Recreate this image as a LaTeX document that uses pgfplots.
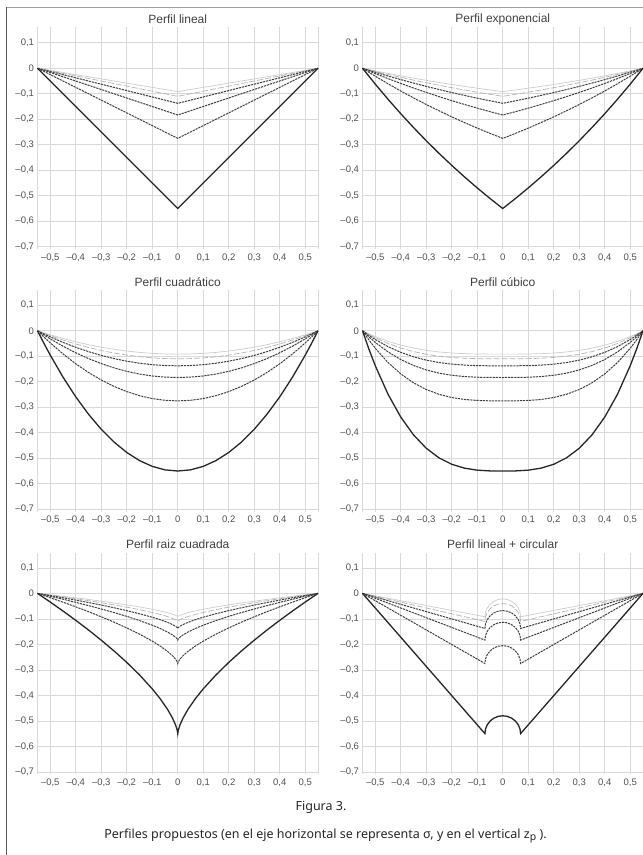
\documentclass[border=0pt]{standalone}
\usepackage{fontspec}
\setmainfont{Liberation Sans}
\newfontfamily\capfont{Noto Sans}
\usepackage{pgfplots}
\usepackage{pgfplotstable}
\pgfplotsset{compat=1.18}

\definecolor{tickgray}{HTML}{505050}
\definecolor{titlegray}{HTML}{404040}

% depth of each curve = 0.55/k, k = 1..6 (columns a..f)
\pgfplotstableread{
x a b c d e f
-0.55 0 0 0 0 0 0
0 -0.55 -0.275 -0.1833 -0.1375 -0.11 -0.0917
0.55 0 0 0 0 0 0
}\tlin

\pgfplotstableread{
x a b c d e f
-0.55 0 0 0 0 0 0
-0.50 -0.0621 -0.0311 -0.0207 -0.0155 -0.0124 -0.0104
-0.45 -0.1215 -0.0607 -0.0405 -0.0304 -0.0243 -0.0202
-0.40 -0.1782 -0.0891 -0.0594 -0.0445 -0.0356 -0.0297
-0.35 -0.2324 -0.1162 -0.0775 -0.0581 -0.0465 -0.0387
-0.30 -0.2842 -0.1421 -0.0947 -0.0710 -0.0568 -0.0474
-0.25 -0.3337 -0.1668 -0.1112 -0.0834 -0.0667 -0.0556
-0.20 -0.3810 -0.1905 -0.1270 -0.0952 -0.0762 -0.0635
-0.15 -0.4261 -0.2131 -0.1420 -0.1065 -0.0852 -0.0710
-0.10 -0.4693 -0.2347 -0.1564 -0.1173 -0.0939 -0.0782
-0.05 -0.5106 -0.2553 -0.1702 -0.1276 -0.1021 -0.0851
0 -0.55 -0.275 -0.1833 -0.1375 -0.11 -0.0917
0.05 -0.5106 -0.2553 -0.1702 -0.1276 -0.1021 -0.0851
0.10 -0.4693 -0.2347 -0.1564 -0.1173 -0.0939 -0.0782
0.15 -0.4261 -0.2131 -0.1420 -0.1065 -0.0852 -0.0710
0.20 -0.3810 -0.1905 -0.1270 -0.0952 -0.0762 -0.0635
0.25 -0.3337 -0.1668 -0.1112 -0.0834 -0.0667 -0.0556
0.30 -0.2842 -0.1421 -0.0947 -0.0710 -0.0568 -0.0474
0.35 -0.2324 -0.1162 -0.0775 -0.0581 -0.0465 -0.0387
0.40 -0.1782 -0.0891 -0.0594 -0.0445 -0.0356 -0.0297
0.45 -0.1215 -0.0607 -0.0405 -0.0304 -0.0243 -0.0202
0.50 -0.0621 -0.0311 -0.0207 -0.0155 -0.0124 -0.0104
0.55 0 0 0 0 0 0
}\texp

\pgfplotstableread{
x a b c d e f
-0.55 0 0 0 0 0 0
-0.525 -0.0489 -0.0244 -0.0163 -0.0122 -0.0098 -0.0081
-0.50 -0.0955 -0.0477 -0.0318 -0.0239 -0.0191 -0.0159
-0.45 -0.1818 -0.0909 -0.0606 -0.0455 -0.0364 -0.0303
-0.40 -0.2591 -0.1295 -0.0864 -0.0648 -0.0518 -0.0432
-0.35 -0.3273 -0.1636 -0.1091 -0.0818 -0.0655 -0.0545
-0.30 -0.3864 -0.1932 -0.1288 -0.0966 -0.0773 -0.0644
-0.25 -0.4364 -0.2182 -0.1455 -0.1091 -0.0873 -0.0727
-0.20 -0.4773 -0.2386 -0.1591 -0.1193 -0.0955 -0.0795
-0.15 -0.5091 -0.2545 -0.1697 -0.1273 -0.1018 -0.0848
-0.10 -0.5318 -0.2659 -0.1773 -0.1330 -0.1064 -0.0886
-0.05 -0.5455 -0.2727 -0.1818 -0.1364 -0.1091 -0.0909
0 -0.55 -0.275 -0.1833 -0.1375 -0.11 -0.0917
0.05 -0.5455 -0.2727 -0.1818 -0.1364 -0.1091 -0.0909
0.10 -0.5318 -0.2659 -0.1773 -0.1330 -0.1064 -0.0886
0.15 -0.5091 -0.2545 -0.1697 -0.1273 -0.1018 -0.0848
0.20 -0.4773 -0.2386 -0.1591 -0.1193 -0.0955 -0.0795
0.25 -0.4364 -0.2182 -0.1455 -0.1091 -0.0873 -0.0727
0.30 -0.3864 -0.1932 -0.1288 -0.0966 -0.0773 -0.0644
0.35 -0.3273 -0.1636 -0.1091 -0.0818 -0.0655 -0.0545
0.40 -0.2591 -0.1295 -0.0864 -0.0648 -0.0518 -0.0432
0.45 -0.1818 -0.0909 -0.0606 -0.0455 -0.0364 -0.0303
0.50 -0.0955 -0.0477 -0.0318 -0.0239 -0.0191 -0.0159
0.525 -0.0489 -0.0244 -0.0163 -0.0122 -0.0098 -0.0081
0.55 0 0 0 0 0 0
}\tquad

\pgfplotstableread{
x a b c d e f
-0.55 0 0 0 0 0 0
-0.525 -0.0716 -0.0358 -0.0239 -0.0179 -0.0143 -0.0119
-0.50 -0.1368 -0.0684 -0.0456 -0.0342 -0.0274 -0.0228
-0.45 -0.2488 -0.1244 -0.0829 -0.0622 -0.0498 -0.0415
-0.40 -0.3384 -0.1692 -0.1128 -0.0846 -0.0677 -0.0564
-0.35 -0.4083 -0.2041 -0.1361 -0.1021 -0.0817 -0.0680
-0.30 -0.4607 -0.2304 -0.1536 -0.1152 -0.0921 -0.0768
-0.25 -0.4984 -0.2492 -0.1661 -0.1246 -0.0997 -0.0831
-0.20 -0.5236 -0.2618 -0.1745 -0.1309 -0.1047 -0.0873
-0.15 -0.5388 -0.2694 -0.1796 -0.1347 -0.1078 -0.0898
-0.10 -0.5467 -0.2733 -0.1822 -0.1367 -0.1093 -0.0911
-0.05 -0.5496 -0.2748 -0.1832 -0.1374 -0.1099 -0.0916
0 -0.55 -0.275 -0.1833 -0.1375 -0.11 -0.0917
0.05 -0.5496 -0.2748 -0.1832 -0.1374 -0.1099 -0.0916
0.10 -0.5467 -0.2733 -0.1822 -0.1367 -0.1093 -0.0911
0.15 -0.5388 -0.2694 -0.1796 -0.1347 -0.1078 -0.0898
0.20 -0.5236 -0.2618 -0.1745 -0.1309 -0.1047 -0.0873
0.25 -0.4984 -0.2492 -0.1661 -0.1246 -0.0997 -0.0831
0.30 -0.4607 -0.2304 -0.1536 -0.1152 -0.0921 -0.0768
0.35 -0.4083 -0.2041 -0.1361 -0.1021 -0.0817 -0.0680
0.40 -0.3384 -0.1692 -0.1128 -0.0846 -0.0677 -0.0564
0.45 -0.2488 -0.1244 -0.0829 -0.0622 -0.0498 -0.0415
0.50 -0.1368 -0.0684 -0.0456 -0.0342 -0.0274 -0.0228
0.525 -0.0716 -0.0358 -0.0239 -0.0179 -0.0143 -0.0119
0.55 0 0 0 0 0 0
}\tcub

\pgfplotstableread{
x a b c d e f
-0.55 0 0 0 0 0 0
-0.50 -0.0340 -0.0170 -0.0113 -0.0085 -0.0068 -0.0057
-0.45 -0.0692 -0.0346 -0.0231 -0.0173 -0.0138 -0.0115
-0.40 -0.1057 -0.0528 -0.0352 -0.0264 -0.0211 -0.0176
-0.35 -0.1437 -0.0718 -0.0479 -0.0359 -0.0287 -0.0239
-0.30 -0.1836 -0.0918 -0.0612 -0.0459 -0.0367 -0.0306
-0.25 -0.2257 -0.1129 -0.0752 -0.0564 -0.0451 -0.0376
-0.20 -0.2707 -0.1354 -0.0902 -0.0677 -0.0541 -0.0451
-0.15 -0.3197 -0.1598 -0.1066 -0.0799 -0.0639 -0.0533
-0.10 -0.3745 -0.1872 -0.1248 -0.0936 -0.0749 -0.0624
-0.07 -0.4118 -0.2059 -0.1373 -0.1029 -0.0824 -0.0686
-0.04 -0.4550 -0.2275 -0.1517 -0.1138 -0.0910 -0.0758
-0.02 -0.4903 -0.2451 -0.1634 -0.1226 -0.0981 -0.0817
-0.008 -0.5177 -0.2588 -0.1726 -0.1294 -0.1035 -0.0863
-0.002 -0.5372 -0.2686 -0.1791 -0.1343 -0.1074 -0.0895
0 -0.55 -0.275 -0.1833 -0.1375 -0.11 -0.0917
0.002 -0.5372 -0.2686 -0.1791 -0.1343 -0.1074 -0.0895
0.008 -0.5177 -0.2588 -0.1726 -0.1294 -0.1035 -0.0863
0.02 -0.4903 -0.2451 -0.1634 -0.1226 -0.0981 -0.0817
0.04 -0.4550 -0.2275 -0.1517 -0.1138 -0.0910 -0.0758
0.07 -0.4118 -0.2059 -0.1373 -0.1029 -0.0824 -0.0686
0.10 -0.3745 -0.1872 -0.1248 -0.0936 -0.0749 -0.0624
0.15 -0.3197 -0.1598 -0.1066 -0.0799 -0.0639 -0.0533
0.20 -0.2707 -0.1354 -0.0902 -0.0677 -0.0541 -0.0451
0.25 -0.2257 -0.1129 -0.0752 -0.0564 -0.0451 -0.0376
0.30 -0.1836 -0.0918 -0.0612 -0.0459 -0.0367 -0.0306
0.35 -0.1437 -0.0718 -0.0479 -0.0359 -0.0287 -0.0239
0.40 -0.1057 -0.0528 -0.0352 -0.0264 -0.0211 -0.0176
0.45 -0.0692 -0.0346 -0.0231 -0.0173 -0.0138 -0.0115
0.50 -0.0340 -0.0170 -0.0113 -0.0085 -0.0068 -0.0057
0.55 0 0 0 0 0 0
}\tsqrt

\pgfplotstableread{
x a b c d e f
-0.55 0 0 0 0 0 0
-0.07 -0.55 -0.275 -0.1833 -0.1375 -0.11 -0.0917
-0.0676 -0.5319 -0.2569 -0.1652 -0.1194 -0.0919 -0.0736
-0.0606 -0.515 -0.24 -0.1483 -0.1025 -0.075 -0.0567
-0.0495 -0.5005 -0.2255 -0.1338 -0.088 -0.0605 -0.0422
-0.035 -0.4894 -0.2144 -0.1227 -0.0769 -0.0494 -0.0311
-0.0181 -0.4824 -0.2074 -0.1157 -0.0699 -0.0424 -0.0241
0 -0.48 -0.205 -0.1133 -0.0675 -0.04 -0.0217
0.0181 -0.4824 -0.2074 -0.1157 -0.0699 -0.0424 -0.0241
0.035 -0.4894 -0.2144 -0.1227 -0.0769 -0.0494 -0.0311
0.0495 -0.5005 -0.2255 -0.1338 -0.088 -0.0605 -0.0422
0.0606 -0.515 -0.24 -0.1483 -0.1025 -0.075 -0.0567
0.0676 -0.5319 -0.2569 -0.1652 -0.1194 -0.0919 -0.0736
0.07 -0.55 -0.275 -0.1833 -0.1375 -0.11 -0.0917
0.55 0 0 0 0 0 0
}\tcirc

\pgfplotsset{
  prof/.style={
    scale only axis, width=280.5pt, height=221.85pt,
    anchor=south west,
    xmin=-0.55, xmax=0.55, ymin=-0.71, ymax=0.16,
    axis line style={draw=none}, major tick length=0pt,
    grid=major, major grid style={gray!30, line width=0.7pt},
    xtick={-0.5,-0.4,-0.3,-0.2,-0.1,0,0.1,0.2,0.3,0.4,0.5},
    xticklabels={{–0,5},{–0,4},{–0,3},{–0,2},{–0,1},0,{0,1},{0,2},{0,3},{0,4},{0,5}},
    extra x ticks={-0.55,0.55}, extra x tick labels={},
    extra x tick style={grid=major},
    ytick={-0.7,-0.6,-0.5,-0.4,-0.3,-0.2,-0.1,0,0.1},
    yticklabels={{–0,7},{–0,6},{–0,5},{–0,4},{–0,3},{–0,2},{–0,1},0,{0,1}},
    tick label style={font=\fontsize{9.5}{10}\selectfont, text=tickgray},
    xticklabel style={yshift=-1pt},
    title style={font=\fontsize{12}{13}\selectfont, text=titlegray,
      at={(0.5,1)}, anchor=center, yshift=2pt},
    clip=false,
  },
  c1/.style={black!85, line width=1.3pt},
  c2/.style={black!75, line width=1pt, dash pattern=on 2.2pt off 0.9pt},
  c5/.style={gray!60, line width=0.7pt, dash pattern=on 6pt off 2pt},
  c6/.style={gray!40, line width=0.7pt},
}

\newcommand\sixcurves[1]{%
  \addplot[c6] table[y=f] {#1};
  \addplot[c5] table[y=e] {#1};
  \addplot[c2] table[y=d] {#1};
  \addplot[c2] table[y=c] {#1};
  \addplot[c2] table[y=b] {#1};
  \addplot[c1] table[y=a] {#1};
}

\begin{document}
\begin{tikzpicture}
  \useasboundingbox (0,0) rectangle (643pt,-855pt);
  \draw[gray!75, line width=0.8pt] (6.5pt,-7pt) -- (643pt,-7pt);
  \draw[black!65, line width=1.6pt] (6.5pt,-6.6pt) -- (6.5pt,-855pt);

  \begin{axis}[prof, at={(37.5pt,-249.3pt)}, title={Perfil lineal}]
    \sixcurves{\tlin}
  \end{axis}
  \begin{axis}[prof, at={(362.5pt,-249.3pt)}, title={Perfil exponencial}]
    \sixcurves{\texp}
  \end{axis}

  \begin{axis}[prof, at={(37.5pt,-511.8pt)}, title={Perfil cuadrático}]
    \sixcurves{\tquad}
  \end{axis}
  \begin{axis}[prof, at={(362.5pt,-511.8pt)}, title={Perfil cúbico}]
    \sixcurves{\tcub}
  \end{axis}

  \begin{axis}[prof, at={(37.5pt,-774.4pt)}, title={Perfil raiz cuadrada}]
    \sixcurves{\tsqrt}
  \end{axis}
  \begin{axis}[prof, at={(362.5pt,-774.4pt)}, title={Perfil lineal + circular}]
    \sixcurves{\tcirc}
  \end{axis}

  \node[font=\capfont\fontsize{12.5}{14}\selectfont, text=black!85] at (321pt,-807pt) {Figura 3.};
  \node[font=\capfont\fontsize{12.5}{14}\selectfont, text=black!85] at (325.5pt,-836pt)
    {Perfiles propuestos (en el eje horizontal se representa σ, y en el vertical z\raisebox{-0.35ex}{\fontsize{10.5}{11}\selectfont p} ).};
\end{tikzpicture}
\end{document}
